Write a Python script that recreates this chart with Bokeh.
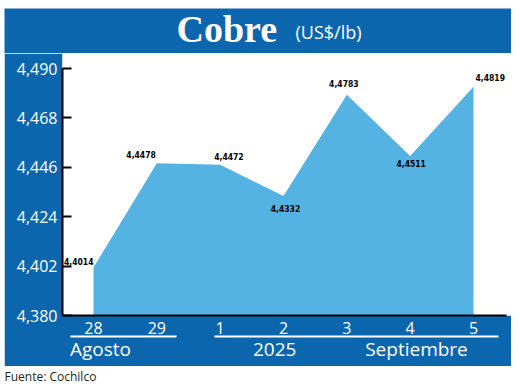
from bokeh.plotting import figure
from bokeh.layouts import column
from bokeh.models import (Range1d, FixedTicker, CustomJSTickFormatter, Label,
                          LinearAxis, ColumnDataSource)
from bokeh.core.properties import value
from bokeh.embed import file_html
from bokeh.resources import INLINE

# ---------------- data ----------------
days = ["28", "29", "1", "2", "3", "4", "5"]
prices = [4.4014, 4.4478, 4.4472, 4.4332, 4.4783, 4.4511, 4.4819]
price_labels = ["4,4014", "4,4478", "4,4472", "4,4332", "4,4783", "4,4511", "4,4819"]
y_ticks = [4.380, 4.402, 4.424, 4.446, 4.468, 4.490]
group_labels = ["Agosto", "2025", "Septiembre"]
title = "Cobre"
unit = "(US$/lb)"
source_note = "Fuente: Cochilco"

# ---------------- styles ----------------
label_align = ["right", "right", "left", "center", "center", "center", "left"]
label_dx = [0, -1, -6, 2, -3, 1, 2]
label_dy = [-6, -9, -8, 12, -11, 8, -9]
group_pos = [0.11, 2.86, 5.1]

DARK = "#0B66AE"
LIGHT = "#55B3E3"

X0, X1 = 4, 511          # page extent of the graphic
Y_TITLE = (8, 53)
Y_MAIN = (53, 366)
Y_SRC = (366, 386)
WIDTH = X1 - X0


def band(y0, y1, fill):
    f = figure(width=WIDTH, height=y1 - y0, output_backend="svg",
               toolbar_location=None, x_axis_type=None, y_axis_type=None,
               x_range=Range1d(X0, X1), y_range=Range1d(y1, y0),
               min_border=0, title=None, frame_align=False)
    f.background_fill_color = fill
    f.border_fill_color = fill
    f.outline_line_color = None
    return f

# ---------- title band ----------
ft = band(*Y_TITLE, DARK)
ft.add_layout(Label(x=176, y=28, text=title, text_baseline="middle",
                    text_font="Liberation Serif", text_font_style="bold",
                    text_font_size="38px", text_color="white"))
ft.add_layout(Label(x=295, y=31, text=unit, text_baseline="middle",
                    text_font="Open Sans", text_font_size="18px",
                    text_color="white"))

# ---------- main chart ----------
x = list(range(len(days)))
src = ColumnDataSource(dict(x=x, y=prices, label=price_labels,
                            align=label_align, dx=label_dx, dy=label_dy))

p = figure(width=WIDTH, height=Y_MAIN[1] - Y_MAIN[0], output_backend="svg",
           toolbar_location=None, title=None, frame_align=False,
           x_range=Range1d(-0.4895, 6.600), y_range=Range1d(y_ticks[0], 4.4967),
           min_border_left=58, min_border_right=0, min_border_top=0,
           min_border_bottom=51)
p.border_fill_color = DARK
p.background_fill_color = "white"
p.outline_line_color = None
p.grid.visible = False

p.varea(x="x", y1=y_ticks[0], y2="y", source=src, fill_color=LIGHT)

p.text(x="x", y="y", text="label", source=src, text_align="align",
       x_offset="dx", y_offset="dy", text_baseline="middle",
       text_font=value("DejaVu Sans Condensed"), text_font_style="bold",
       text_font_size="8.5px", text_color="black")

ya = p.yaxis[0]
ya.ticker = FixedTicker(ticks=y_ticks)
ya.formatter = CustomJSTickFormatter(code="return tick.toFixed(3).replace('.', ',');")
ya.bounds = (y_ticks[0], y_ticks[-1])
ya.axis_line_color = "black"
ya.axis_line_width = 2
ya.major_tick_line_color = "black"
ya.major_tick_line_width = 2
ya.major_tick_in = 9
ya.major_tick_out = 0
ya.minor_tick_line_color = None
ya.major_label_standoff = 5
ya.major_label_text_color = "white"
ya.major_label_text_font = "Open Sans"
ya.major_label_text_font_size = "16px"

xa = p.xaxis[0]
xa.ticker = FixedTicker(ticks=x)
xa.major_label_overrides = {i: d for i, d in zip(x, days)}
xa.bounds = (-0.4895, 6.521)
xa.axis_line_color = "black"
xa.axis_line_width = 2
xa.major_tick_line_color = None
xa.minor_tick_line_color = None
xa.major_label_standoff = 0
xa.major_label_text_color = "white"
xa.major_label_text_font = "Open Sans"
xa.major_label_text_font_size = "16px"

ga = LinearAxis(ticker=FixedTicker(ticks=group_pos),
                major_label_overrides={t: s for t, s in zip(group_pos, group_labels)},
                bounds=(-0.36, 6.4))
ga.axis_line_color = "white"
ga.axis_line_width = 2
ga.axis_line_dash = "106 38 285 100"
ga.major_tick_line_color = None
ga.minor_tick_line_color = None
ga.major_label_standoff = -7
ga.major_label_text_color = "white"
ga.major_label_text_font = "Open Sans"
ga.major_label_text_font_size = "19px"
p.add_layout(ga, "below")

# ---------- source line ----------
fs = band(*Y_SRC, "white")
fs.add_layout(Label(x=4, y=376, text=source_note, text_baseline="middle",
                    text_font="Open Sans", text_font_size="12px",
                    text_color="#231F20"))

layout = column(ft, p, fs, spacing=0, margin=(Y_TITLE[0], 0, 0, X0))
open("out.html", "w").write(file_html(layout, INLINE))
